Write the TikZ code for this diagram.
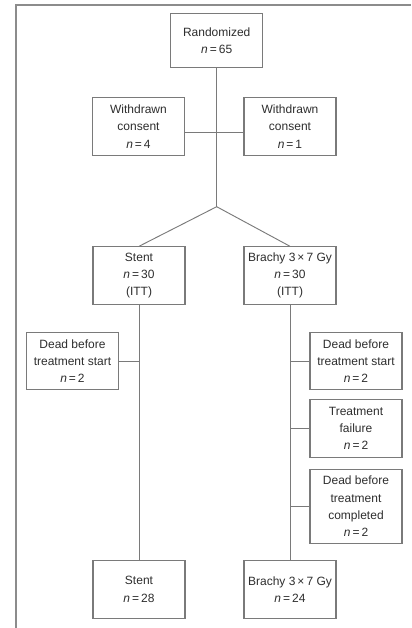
\documentclass[tikz,border=0pt]{standalone}
\usepackage{fontspec}
\setmainfont{Liberation Sans}
\definecolor{txtgray}{HTML}{2E2E2E}
\definecolor{linegray}{HTML}{7A7A7A}
\definecolor{framegray}{HTML}{8C8C8C}
\newcommand{\nn}[1]{\textit{n}\,=\,#1}

\begin{document}
\begin{tikzpicture}[x=0.75pt, y=-0.75pt,
  box/.style={draw=linegray, line width=0.8pt, fill=white, text=txtgray,
    minimum width=69pt, minimum height=43pt, inner sep=1pt, align=center,
    font=\fontsize{9}{13}\selectfont},
  tallbox/.style={box, minimum height=56pt},
  link/.style={draw=linegray, line width=0.7pt}
]
\useasboundingbox (0,0) rectangle (411,628);

% Frame (cut off at right and bottom)
\draw[framegray, line width=1.6pt] (16,628) -- (16,5) -- (411,5);

% Top of the chart
\node[box, minimum height=41pt] (rand) at (216.7,40.5) {Randomized\\\nn{65}};
\node[box] (wdL) at (138.5,126.5) {Withdrawn\\consent\\\nn{4}};
\node[box] (wdR) at (290,126.5) {Withdrawn\\consent\\\nn{1}};
\coordinate (wy) at (0,132.7);
\coordinate (apex) at (216.7,206.7);

% The two arms
\node[box] (stent) at (139,275.5) {Stent\\\nn{30}\\(ITT)};
\node[box] (brachy) at (290,275.5) {Brachy 3\,×\,7 Gy\\\nn{30}\\(ITT)};

% Drop-outs
\node[box] (deadL) at (72.5,361) {Dead before\\treatment start\\\nn{2}};
\node[box] (deadR) at (356,361) {Dead before\\treatment start\\\nn{2}};
\node[box] (fail) at (356,428.5) {Treatment\\failure\\\nn{2}};
\node[tallbox] (deadC) at (356,506.5) {Dead before\\treatment\\completed\\\nn{2}};

% End of the arms
\node[box] (stentE) at (139,589.5) {Stent\\\nn{28}};
\node[box] (brachyE) at (290,589.5) {Brachy 3\,×\,7 Gy\\\nn{24}};

% Connectors
\draw[link] (rand.south) -- (apex);
\draw[link] (wdL.east |- wy) -- (wdR.west |- wy);
\draw[link] (apex) -- (stent.north);
\draw[link] (apex) -- (brachy.north);
\draw[link] (stent.south) -- (stentE.north);
\draw[link] (brachy.south) -- (brachyE.north);
\draw[link] (deadL.east) -- (deadL.east -| stent.south);
\draw[link] (deadR.west) -- (deadR.west -| brachy.south);
\draw[link] (fail.west) -- (fail.west -| brachy.south);
\draw[link] (deadC.west) -- (deadC.west -| brachy.south);
\end{tikzpicture}
\end{document}
